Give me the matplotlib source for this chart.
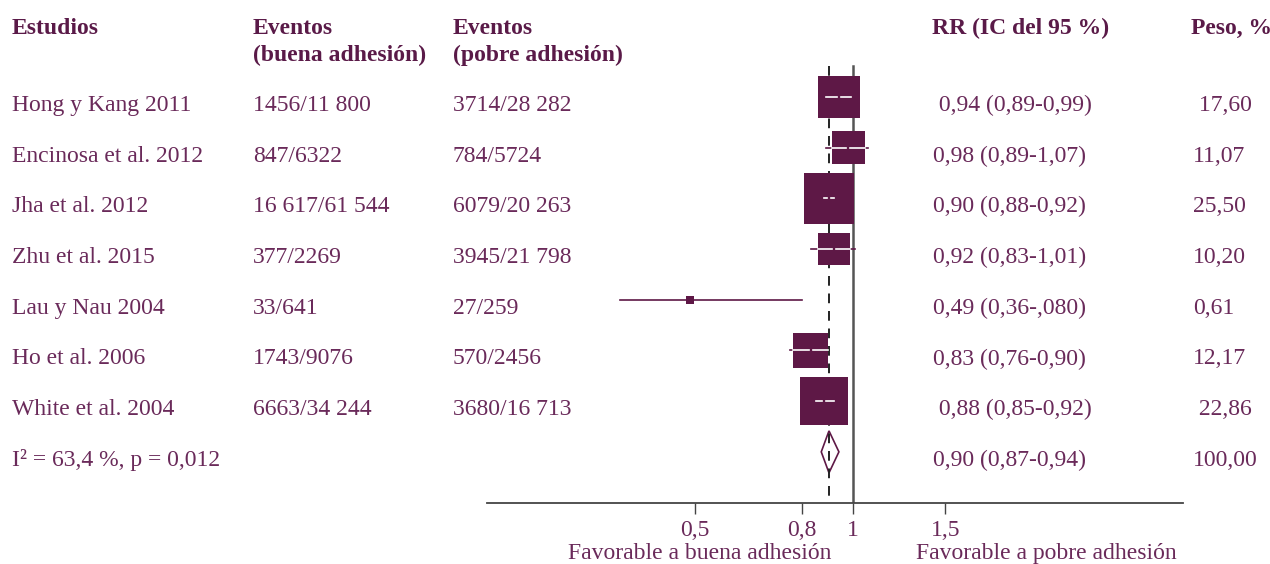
import numpy as np
import matplotlib.pyplot as plt
from matplotlib.transforms import blended_transform_factory

plt.rcParams['font.family'] = ['Liberation Serif', 'DejaVu Serif']

studies = ['Hong y Kang 2011', 'Encinosa et al. 2012', 'Jha et al. 2012', 'Zhu et al. 2015',
           'Lau y Nau 2004', 'Ho et al. 2006', 'White et al. 2004']
events_good = ['1456/11 800', '847/6322', '16 617/61 544', '377/2269', '33/641', '1743/9076', '6663/34 244']
events_poor = ['3714/28 282', '784/5724', '6079/20 263', '3945/21 798', '27/259', '570/2456', '3680/16 713']
rr = [0.94, 0.98, 0.90, 0.92, 0.49, 0.83, 0.88]
ci_low = [0.89, 0.89, 0.88, 0.83, 0.36, 0.76, 0.85]
ci_high = [0.99, 1.07, 0.92, 1.01, 0.80, 0.90, 0.92]
rr_labels = [' 0,94 (0,89-0,99)', '0,98 (0,89-1,07)', '0,90 (0,88-0,92)', '0,92 (0,83-1,01)',
             '0,49 (0,36-,080)', '0,83 (0,76-0,90)', ' 0,88 (0,85-0,92)']
weights = [17.60, 11.07, 25.50, 10.20, 0.61, 12.17, 22.86]
weight_labels = [' 17,60', '11,07', '25,50', '10,20', '0,61', '12,17', ' 22,86']

pooled_rr, pooled_low, pooled_high = 0.90, 0.87, 0.94
pooled_label = '0,90 (0,87-0,94)'
pooled_weight = '100,00'
heterogeneity = 'I² = 63,4 %, p = 0,012'

ticks = [0.5, 0.8, 1, 1.5]
tick_labels = ['0,5', '0,8', '1', '1,5']

W, H = 1270, 564
text_color = '#6A2A5A'
head_color = '#5A1A48'
box_color = '#5E1846'
fs = 17

fig = plt.figure(figsize=(W / 100, H / 100), dpi=100)
ax = fig.add_axes([487 / W, 1 - 503 / H, (1183 - 487) / W, 503 / H])
ax.set_xscale('log')
xmin, xmax = 0.2009, 4.25
ax.set_xlim(xmin, xmax)
ax.set_ylim(7.89, -2.03)

n = len(studies)
rows = np.arange(n)
pooled_row = n

# white line inside each square: need size of square in log units
px_per_ln = (1183 - 487) / np.log(xmax / xmin)
px_per_row = 503 / (7.89 + 2.03)
sizes = [52 * w for w in weights]

# markers sit a little above the text centre line
lift = 6 / px_per_row
mark_y = rows - lift

for i in range(n):
    ax.plot([ci_low[i], ci_high[i]], [mark_y[i], mark_y[i]], color=box_color, lw=1.2, zorder=2)
ax.scatter(rr, mark_y, s=sizes, marker='s', color=box_color, linewidths=0, zorder=4)

gap = 2.0 / px_per_ln
for i in range(n):
    half_px = np.sqrt(sizes[i]) * 100 / 72 / 2
    if half_px < 8:
        continue
    half = half_px / px_per_ln
    lo = max(ci_low[i], rr[i] * np.exp(-half))
    hi = min(ci_high[i], rr[i] * np.exp(half))
    left_end = rr[i] * np.exp(-gap)
    right_start = rr[i] * np.exp(gap)
    if lo < left_end:
        ax.plot([lo, left_end], [mark_y[i], mark_y[i]], color='white', lw=1.2, zorder=5)
    if right_start < hi:
        ax.plot([right_start, hi], [mark_y[i], mark_y[i]], color='white', lw=1.2, zorder=5)

# pooled diamond
dh = 21 / px_per_row
py = pooled_row - lift
ax.fill([pooled_low, pooled_rr, pooled_high, pooled_rr],
        [py, py - dh, py, py + dh],
        facecolor='white', edgecolor=box_color, lw=1.2, zorder=2.5)

# reference lines (boxes cover them, the diamond does not)
top = (66 - 103) / px_per_row
ax.plot([1, 1], [top, 7.89], color='#555555', lw=1.8, zorder=1)
ax.plot([pooled_rr, pooled_rr], [top, 7.89], color='#222222', lw=1.4,
        linestyle=(0, (5, 4)), zorder=3)

for side in ['top', 'left', 'right']:
    ax.spines[side].set_visible(False)
ax.spines['bottom'].set_color('#444444')
ax.spines['bottom'].set_linewidth(1.3)
ax.set_yticks([])
ax.set_xticks(ticks)
ax.set_xticklabels(tick_labels)
ax.xaxis.set_minor_locator(plt.NullLocator())
ax.tick_params(axis='x', direction='out', length=8, width=1, color='#444444',
               labelsize=fs, labelcolor=text_color, pad=4)
ax.patch.set_alpha(0)

# table columns
tr = blended_transform_factory(fig.transFigure, ax.transData)
row_y = lambda py: (py - 103) / px_per_row

headers = [(12, ['Estudios']),
           (253, ['Eventos', '(buena adhesión)']),
           (453, ['Eventos', '(pobre adhesión)']),
           (932, ['RR (IC del 95 %)']),
           (1191, ['Peso, %'])]
for px, lines in headers:
    for k, line in enumerate(lines):
        ax.text(px / W, row_y(26 + 27 * k), line, transform=tr, fontsize=fs,
                fontweight='bold', color=head_color, va='center_baseline', ha='left')

for i in range(n):
    for px, label in [(12, studies[i]), (253, events_good[i]), (453, events_poor[i]),
                      (933, rr_labels[i]), (1193, weight_labels[i])]:
        ax.text(px / W, rows[i], label, transform=tr, fontsize=fs, color=text_color,
                va='center_baseline', ha='left')

ax.text(12 / W, pooled_row, heterogeneity, transform=tr, fontsize=fs, color=text_color,
        va='center_baseline', ha='left')
ax.text(933 / W, pooled_row, pooled_label, transform=tr, fontsize=fs, color=text_color,
        va='center_baseline', ha='left')
ax.text(1193 / W, pooled_row, pooled_weight, transform=tr, fontsize=fs, color=text_color,
        va='center_baseline', ha='left')

fig.text(700 / W, 1 - 551 / H, 'Favorable a buena adhesión', fontsize=fs, color=text_color,
         ha='center', va='center_baseline')
fig.text(1046 / W, 1 - 551 / H, 'Favorable a pobre adhesión', fontsize=fs, color=text_color,
         ha='center', va='center_baseline')

plt.savefig('out.png', dpi=100)
